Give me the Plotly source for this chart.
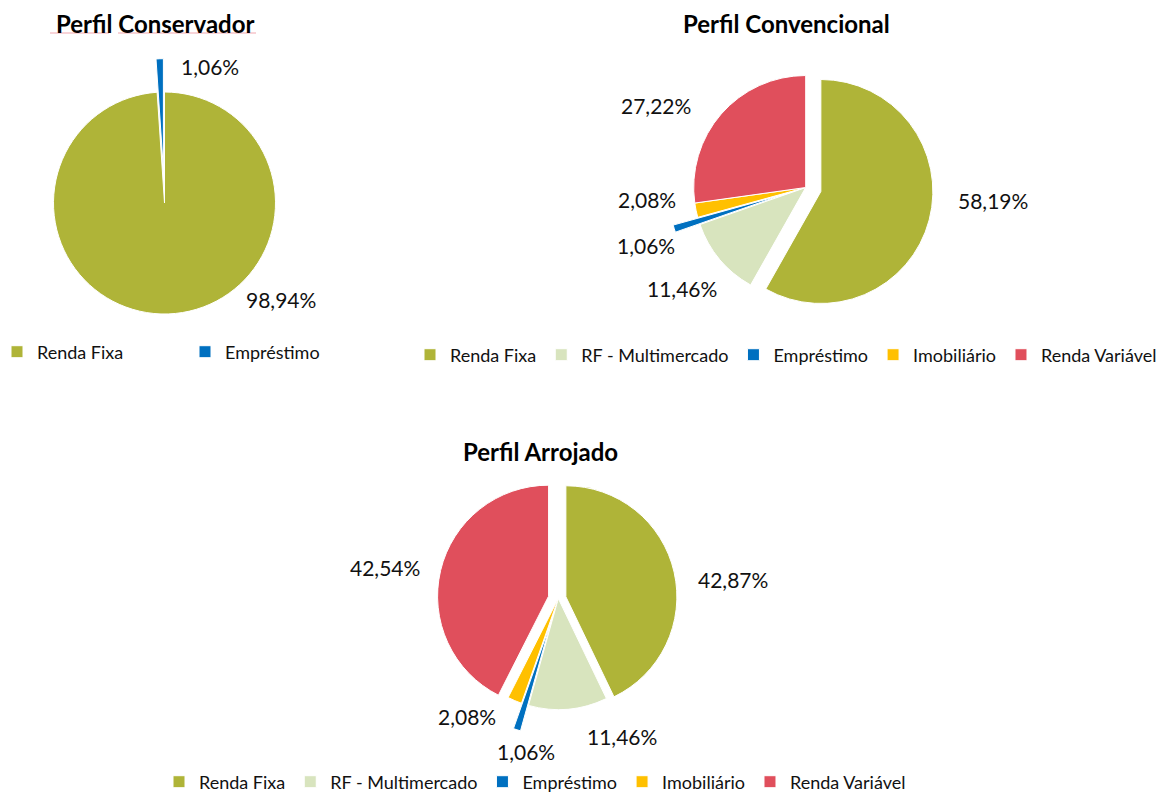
import plotly.graph_objects as go

# ---------------- data ----------------
cons_labels = ["Renda Fixa", "Empréstimo"]
cons_values = [98.94, 1.06]

conv_labels = ["Renda Fixa", "RF - Multimercado", "Empréstimo", "Imobiliário", "Renda Variável"]
conv_values = [58.19, 11.46, 1.06, 2.08, 27.22]

arro_labels = ["Renda Fixa", "RF - Multimercado", "Empréstimo", "Imobiliário", "Renda Variável"]
arro_values = [42.87, 11.46, 1.06, 2.08, 42.54]

titles = ["Perfil Conservador", "Perfil Convencional", "Perfil Arrojado"]

# ---------------- style ----------------
W, H = 1168, 792
FONT = "Lato"
TXT = "#111111"
color_map = {
    "Renda Fixa": "#AFB438",
    "RF - Multimercado": "#D8E4BE",
    "Empréstimo": "#0070C0",
    "Imobiliário": "#FFC000",
    "Renda Variável": "#E04F5C",
}

cons_pull = [0, 0.30]
conv_pull = [0.14, 0, 0.23, 0, 0]
arro_pull = [0.07, 0, 0.24, 0, 0.09]

# data-label anchor positions (pixels, Excel "best fit" placement)
cons_lbl_pos = [(281, 299), (210, 66)]
conv_lbl_pos = [(993, 200), (682, 289), (646, 245), (647, 199), (656, 105)]
arro_lbl_pos = [(733, 579), (622, 736), (526, 751), (467, 716), (385, 567)]


def domain(cx, cy, r, pulls):
    half = r * (1 + max(pulls))
    return dict(x=[(cx - half) / W, (cx + half) / W],
                y=[1 - (cy + half) / H, 1 - (cy - half) / H])


def pie(labels, values, pulls, dom, legend, group):
    return go.Pie(
        labels=labels, values=values, pull=pulls, domain=dom,
        sort=False, direction="clockwise", rotation=0,
        marker=dict(colors=[color_map[l] for l in labels],
                    line=dict(color="white", width=1)),
        textinfo="none",
        hoverinfo="label+value", legend=legend, legendgroup=group, showlegend=True,
    )


fig = go.Figure()
fig.add_trace(pie(cons_labels, cons_values, cons_pull,
                  domain(164.5, 203, 111, cons_pull), "legend", "cons"))
fig.add_trace(pie(conv_labels, conv_values, conv_pull,
                  domain(805.7, 187.5, 112, conv_pull), "legend2", "conv"))
fig.add_trace(pie(arro_labels, arro_values, arro_pull,
                  domain(558.3, 598.5, 111, arro_pull), "legend3", "arro"))

# data labels
for vals, poss in [(cons_values, cons_lbl_pos), (conv_values, conv_lbl_pos),
                   (arro_values, arro_lbl_pos)]:
    for v, (x, y) in zip(vals, poss):
        txt = f"{v:.2f}%".replace(".", ",")
        fig.add_annotation(text=txt, x=x / W, y=1 - y / H, xref="paper", yref="paper",
                           showarrow=False, xanchor="center", yanchor="middle",
                           font=dict(family=FONT, size=21, color=TXT))

title_pos = [(155, 24), (787, 24), (540, 451)]
for t, (x, y) in zip(titles, title_pos):
    fig.add_annotation(text=f"<b>{t}</b>", x=x / W, y=1 - y / H, xref="paper", yref="paper",
                       showarrow=False, xanchor="center", yanchor="middle",
                       font=dict(family=FONT, size=24, color="#000000"))

# spell-check style underline under first title
for x0, x1 in [(50, 109), (118, 256)]:
    fig.add_shape(type="line", xref="paper", yref="paper",
                  x0=x0 / W, x1=x1 / W, y0=1 - 33 / H, y1=1 - 33 / H,
                  line=dict(color="#F2A7B0", width=1.2))

leg_font = dict(family=FONT, size=18, color=TXT)
fig.update_layout(
    width=W, height=H,
    margin=dict(l=0, r=0, t=0, b=0, autoexpand=False),
    paper_bgcolor="white", plot_bgcolor="white",
    separators=",.",
    legend=dict(orientation="h", x=-3 / W, y=1 - 352 / H, xanchor="left", yanchor="middle",
                font=leg_font, entrywidth=143, itemwidth=30, traceorder="normal"),
    legend2=dict(orientation="h", x=410 / W, y=1 - 355 / H, xanchor="left", yanchor="middle",
                 font=leg_font, itemwidth=30, traceorder="normal"),
    legend3=dict(orientation="h", x=159 / W, y=1 - 782 / H, xanchor="left", yanchor="middle",
                 font=leg_font, itemwidth=30, traceorder="normal"),
)

fig.write_html("out.html", config={"displayModeBar": False},
               post_script="document.body.style.margin='0';document.body.style.overflow='hidden';")
